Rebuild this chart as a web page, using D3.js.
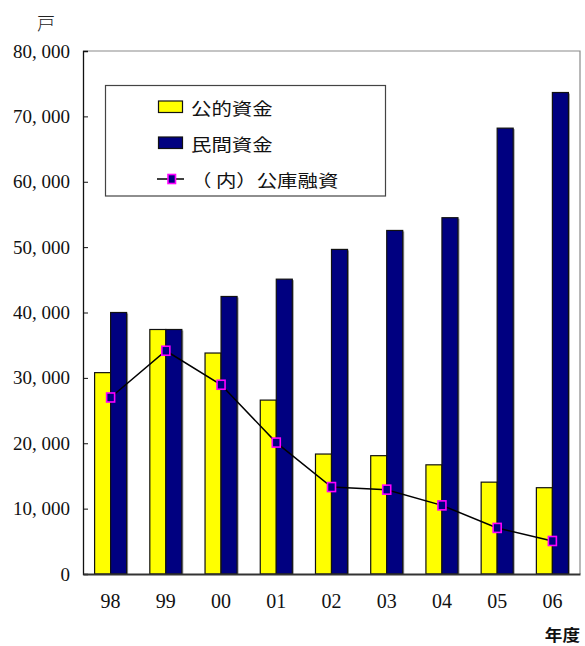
<!DOCTYPE html>
<html>
<head>
<meta charset="utf-8">
<script src="https://cdn.jsdelivr.net/npm/d3@7"></script>
<style>
  html, body { margin: 0; padding: 0; background: #fff; }
  svg { display: block; }
</style>
</head>
<body>
<svg id="chart" width="585" height="646"></svg>
<script>
// 年度別の資金別戸数
const years = ["98", "99", "00", "01", "02", "03", "04", "05", "06"];
const publicFunds = [30800, 37400, 33800, 26600, 18350, 18100, 16700, 14050, 13200];   // 公的資金
const privateFunds = [40000, 37400, 42450, 45100, 49650, 52550, 54500, 68200, 73650];  // 民間資金
const kokoLoans = [27000, 34150, 28950, 20100, 13300, 12900, 10500, 7050, 5050];       // （内）公庫融資
const yTicks = [0, 10000, 20000, 30000, 40000, 50000, 60000, 70000, 80000];
const seriesNames = ["公的資金", "民間資金"];
const lineName = "（ 内）公庫融資";

const svg = d3.select("#chart");
const plotL = 83, plotR = 580, plotT = 51, plotB = 574;

const x = d3.scaleBand().domain(years).range([plotL, plotR])
  .paddingInner(0.42).paddingOuter(0.21);
const xSub = d3.scaleBand().domain(seriesNames).range([0, x.bandwidth()]);
const y = d3.scaleLinear().domain([0, 80000]).range([plotB, plotT]);

const serif = "'Liberation Serif', 'DejaVu Serif', serif";
const cjk = "'Noto Sans CJK JP', 'Noto Sans', sans-serif";

// plot frame: top and right edges in gray
svg.append("path")
  .attr("d", `M${plotL},${plotT}H${plotR}V${plotB}`)
  .attr("fill", "none").attr("stroke", "#8a8a8a").attr("stroke-width", 1.2);

// bars
const colors = { "公的資金": "#ffff00", "民間資金": "#000080" };
const rows = years.map((yr, i) => ({ yr, vals: [publicFunds[i], privateFunds[i]] }));
const groups = svg.append("g").selectAll("g").data(rows).join("g")
  .attr("transform", d => `translate(${x(d.yr)},0)`);
const cells = groups.selectAll("g").data(d => d.vals.map((v, k) => ({ key: seriesNames[k], v })))
  .join("g");
// soft shadow on the right side of each bar
cells.append("rect")
  .attr("x", d => xSub(d.key) + 1.5)
  .attr("y", d => y(d.v) + 1)
  .attr("width", xSub.bandwidth())
  .attr("height", d => plotB - y(d.v) - 1)
  .attr("fill", "#9a9a9a");
cells.append("rect")
  .attr("x", d => xSub(d.key))
  .attr("y", d => y(d.v))
  .attr("width", xSub.bandwidth())
  .attr("height", d => plotB - y(d.v))
  .attr("fill", d => colors[d.key])
  .attr("stroke", "#111").attr("stroke-width", 1.2);

// axes
const yAxis = d3.axisLeft(y).tickValues(yTicks).tickSize(-5).tickPadding(13)
  .tickFormat(d => d3.format(",")(d).replace(",", ", "));
const gy = svg.append("g").attr("transform", `translate(${plotL},0)`).call(yAxis);
gy.select(".domain").attr("stroke", "#111").attr("stroke-width", 1.3);
gy.selectAll(".tick line").attr("stroke", "#111");
gy.selectAll(".tick text").attr("font-family", serif).attr("font-size", 19).attr("fill", "#111");

const xAxis = d3.axisBottom(x).tickSize(0).tickPadding(20);
const gx = svg.append("g").attr("transform", `translate(0,${plotB})`).call(xAxis);
gx.select(".domain").attr("stroke", "#333").attr("stroke-width", 2);
gx.selectAll(".tick text").attr("font-family", serif).attr("font-size", 20).attr("fill", "#111");

// line: 公庫融資
const cx = d => x(d) + x.bandwidth() / 2;
const pts = years.map((yr, i) => [cx(yr), y(kokoLoans[i])]);
svg.append("path").attr("d", d3.line()(pts))
  .attr("fill", "none").attr("stroke", "#000").attr("stroke-width", 1.5);
svg.append("g").selectAll("rect").data(pts).join("rect")
  .attr("x", d => d[0] - 4).attr("y", d => d[1] - 4.5)
  .attr("width", 8).attr("height", 9)
  .attr("fill", "#000080").attr("stroke", "#ff00ff").attr("stroke-width", 1.6);

// legend
const lg = svg.append("g");
lg.append("rect").attr("x", 105.5).attr("y", 85.5).attr("width", 280).attr("height", 110.5)
  .attr("fill", "#fff").attr("stroke", "#444").attr("stroke-width", 1.2);
const legendRows = [
  { name: seriesNames[0], cy: 107, type: "bar", color: colors["公的資金"] },
  { name: seriesNames[1], cy: 143, type: "bar", color: colors["民間資金"] },
  { name: lineName, cy: 179, type: "line" }
];
legendRows.forEach(r => {
  if (r.type === "bar") {
    lg.append("rect").attr("x", 158.5).attr("y", r.cy - 6).attr("width", 24).attr("height", 11.5)
      .attr("fill", r.color).attr("stroke", "#111").attr("stroke-width", 1.2);
  } else {
    lg.append("line").attr("x1", 157).attr("x2", 184).attr("y1", r.cy).attr("y2", r.cy)
      .attr("stroke", "#000").attr("stroke-width", 1.5);
    lg.append("rect").attr("x", 168).attr("y", r.cy - 4.5).attr("width", 7.5).attr("height", 9)
      .attr("fill", "#000080").attr("stroke", "#ff00ff").attr("stroke-width", 1.6);
  }
  lg.append("text")
    .attr("transform", `translate(191,${r.cy}) scale(1.2,1)`)
    .attr("dominant-baseline", "central")
    .attr("font-family", cjk).attr("font-size", 17).attr("fill", "#111")
    .text(r.name);
});

// unit and axis title
svg.append("text").attr("x", 46).attr("y", 22)
  .attr("text-anchor", "middle").attr("dominant-baseline", "central")
  .attr("font-family", cjk).attr("font-weight", 300).attr("font-size", 18).attr("fill", "#222")
  .text("戸");
svg.append("text")
  .attr("transform", "translate(580,634) scale(1.1,1)")
  .attr("text-anchor", "end").attr("dominant-baseline", "central")
  .attr("font-family", cjk).attr("font-weight", 700).attr("font-size", 16).attr("fill", "#111")
  .text("年度");
</script>
</body>
</html>
